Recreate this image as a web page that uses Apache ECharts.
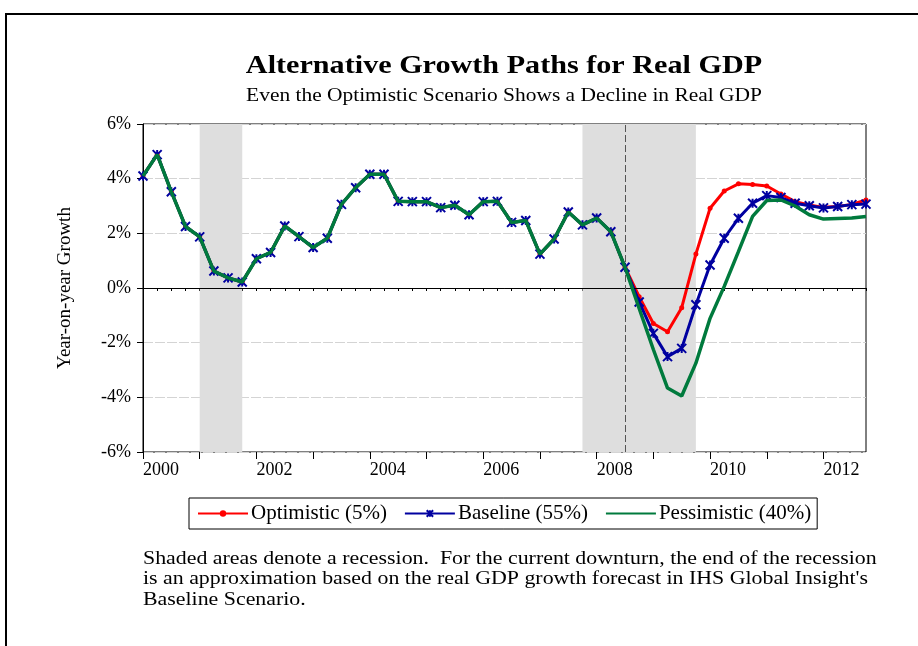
<!DOCTYPE html>
<html>
<head>
<meta charset="utf-8">
<script src="https://cdn.jsdelivr.net/npm/echarts@6/dist/echarts.min.js"></script>
<style>
  html, body { margin: 0; padding: 0; background: #fff; }
  #chart { width: 918px; height: 646px; }
</style>
</head>
<body>
<div id="chart"></div>
<script>
// Quarterly periods, 2000Q1 .. 2012Q4
const quarters = [];
for (let y = 2000; y <= 2012; y++) {
  for (let q = 1; q <= 4; q++) quarters.push(y + 'Q' + q);
}

// Actual year-on-year real GDP growth (%), 2000Q1 .. 2008Q3
const actual = [4.10, 4.88, 3.52, 2.25, 1.87, 0.62, 0.37, 0.22, 1.07, 1.30,
  2.27, 1.88, 1.48, 1.82, 3.06, 3.67, 4.16, 4.16, 3.17, 3.16,
  3.16, 2.94, 3.03, 2.68, 3.16, 3.17, 2.40, 2.47, 1.24, 1.79,
  2.78, 2.31, 2.56, 2.06, 0.76];

// Forecast paths, 2008Q4 .. 2012Q4
const optimisticPath = [-0.32, -1.30, -1.60, -0.72, 1.24, 2.92, 3.55, 3.81, 3.79,
  3.73, 3.44, 3.16, 3.04, 2.95, 2.98, 3.06, 3.22];
const baselinePath = [-0.51, -1.66, -2.51, -2.21, -0.61, 0.84, 1.82, 2.55, 3.10,
  3.38, 3.31, 3.10, 3.01, 2.93, 2.98, 3.05, 3.07];
const pessimisticPath = [-0.75, -2.25, -3.66, -3.95, -2.75, -1.11, 0.06, 1.33, 2.62,
  3.20, 3.22, 3.00, 2.68, 2.52, 2.54, 2.56, 2.62];

// Recession periods (shaded) and the last actual quarter
const recessions = [['2001Q1', '2001Q4'], ['2007Q4', '2009Q4']];
const lastActual = '2008Q3';

const seriesNames = ['Optimistic (5%)', 'Baseline (55%)', 'Pessimistic (40%)'];

const titleText = 'Alternative Growth Paths for Real GDP';
const subtitleText = 'Even the Optimistic Scenario Shows a Decline in Real GDP';
const noteText = "Shaded areas denote a recession.  For the current downturn, the end of the recession\n" +
  "is an approximation based on the real GDP growth forecast in IHS Global Insight's\n" +
  "Baseline Scenario.";

const FONT = '"Liberation Serif", "Times New Roman", serif';

const chart = echarts.init(document.getElementById('chart'));

// asterisk-style marker for the baseline path
const starSymbol = 'path://M0,0L10,10M10,0L0,10M5,0L5,10';

chart.setOption({
  backgroundColor: '#fff',
  animation: false,
  grid: {
    left: 143, right: 52, top: 124, bottom: 194,
    show: true, borderColor: '#000', borderWidth: 1, backgroundColor: 'transparent'
  },
  legend: {
    data: [
      { name: seriesNames[0] },
      { name: seriesNames[1] },
      { name: seriesNames[2], itemStyle: { opacity: 0 } }
    ],
    left: 189,
    top: 498,
    padding: [5, 6, 5, 8],
    borderColor: '#000',
    borderWidth: 1,
    itemGap: 17,
    itemWidth: 50,
    itemHeight: 8,
    textStyle: { fontFamily: FONT, fontSize: 21, color: '#000', padding: [0, 0, 0, -2] }
  },
  xAxis: [
    {
      type: 'category',
      data: quarters,
      boundaryGap: false,
      axisLine: { lineStyle: { color: '#000', width: 1 } },
      axisTick: { interval: 0, length: 3, lineStyle: { color: '#000' } },
      axisLabel: { show: false },
      splitLine: { show: false }
    },
    {
      type: 'category',
      data: quarters,
      boundaryGap: false,
      position: 'bottom',
      axisLine: { show: false },
      axisTick: {
        interval: (i) => i % 4 === 0,
        length: 7,
        lineStyle: { color: '#000' }
      },
      axisLabel: {
        interval: (i) => i % 8 === 0,
        formatter: (v) => v.slice(0, 4),
        align: 'left',
        margin: 9,
        fontFamily: FONT,
        fontSize: 18,
        color: '#000'
      },
      splitLine: { show: false }
    }
  ],
  yAxis: {
    type: 'value',
    min: -6, max: 6, interval: 2,
    name: 'Year-on-year Growth',
    nameLocation: 'middle',
    nameGap: 68,
    nameTextStyle: { fontFamily: FONT, fontSize: 19, color: '#000' },
    axisLine: { show: true, lineStyle: { color: '#000' } },
    axisTick: { show: true, length: 6, lineStyle: { color: '#000' } },
    axisLabel: { formatter: '{value}%', margin: 12, fontFamily: FONT, fontSize: 18, color: '#000' },
    splitLine: { show: true, lineStyle: { color: '#d4d4d4', width: 1, type: [10, 2] } }
  },
  series: [
    {
      name: seriesNames[0],
      type: 'line',
      data: actual.concat(optimisticPath),
      symbol: 'circle',
      symbolSize: 5,
      showAllSymbol: true,
      lineStyle: { color: '#ff0000', width: 3 },
      itemStyle: { color: '#ff0000' },
      markArea: {
        silent: true,
        itemStyle: { color: '#dedede' },
        data: recessions.map(r => [{ xAxis: r[0] }, { xAxis: r[1] }])
      },
      markLine: {
        silent: true,
        symbol: 'none',
        label: { show: false },
        data: [
          { yAxis: 0, lineStyle: { color: '#000', width: 1, type: 'solid' } },
          { xAxis: lastActual, lineStyle: { color: '#555', width: 1, type: [7, 3] } }
        ]
      },
      z: 3
    },
    {
      name: seriesNames[1],
      type: 'line',
      data: actual.concat(baselinePath),
      symbol: starSymbol,
      symbolSize: 9,
      showAllSymbol: true,
      lineStyle: { color: '#0000a0', width: 3 },
      itemStyle: { color: '#0000a0', borderColor: '#0000a0', borderWidth: 2 },
      z: 4
    },
    {
      name: seriesNames[2],
      type: 'line',
      data: actual.concat(pessimisticPath),
      symbol: 'none',
      lineStyle: { color: '#007a3d', width: 3.5 },
      itemStyle: { color: '#007a3d' },
      z: 5
    }
  ],
  graphic: [
    {
      type: 'polyline',
      shape: { points: [[6, 700], [6, 14], [930, 14]] },
      style: { stroke: '#000', lineWidth: 2, fill: null },
      silent: true
    },
    {
      type: 'text',
      x: 504, y: 66,
      scaleX: 1.16,
      style: {
        text: titleText,
        font: 'bold 26px ' + FONT,
        align: 'center', verticalAlign: 'middle',
        fill: '#000'
      },
      silent: true
    },
    {
      type: 'text',
      x: 504, y: 96,
      scaleX: 1.19,
      style: {
        text: subtitleText,
        font: '18px ' + FONT,
        align: 'center', verticalAlign: 'middle',
        fill: '#000'
      },
      silent: true
    },
    {
      type: 'text',
      x: 143, y: 549,
      scaleX: 1.215,
      style: {
        text: noteText,
        font: '18px ' + FONT,
        lineHeight: 20.5,
        fill: '#000'
      },
      silent: true
    }
  ]
});
</script>
</body>
</html>
